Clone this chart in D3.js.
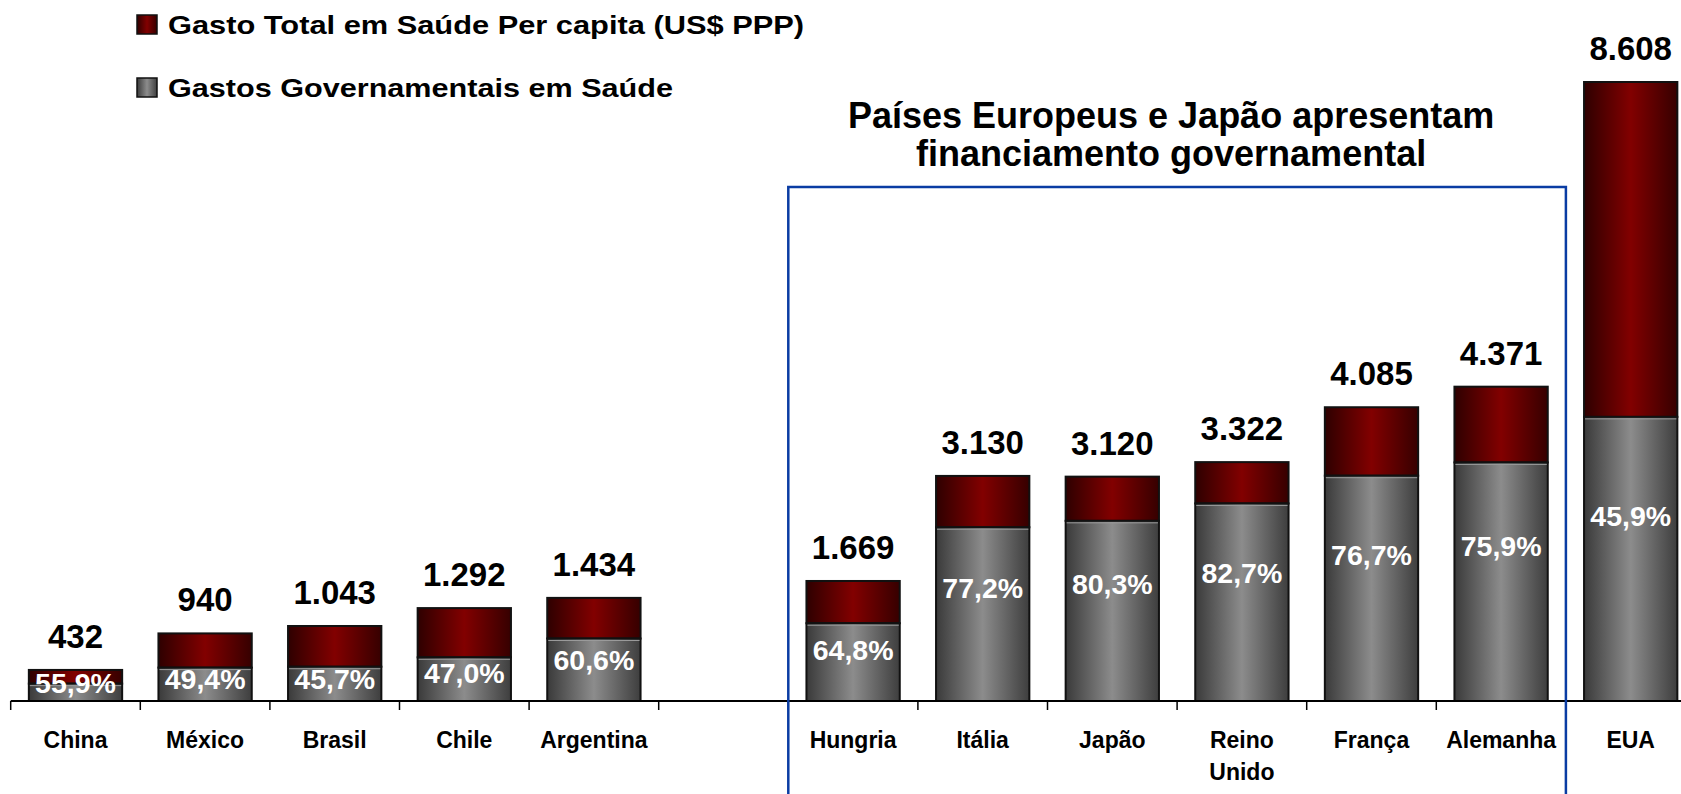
<!DOCTYPE html>
<html><head><meta charset="utf-8">
<script src="https://cdn.jsdelivr.net/npm/d3@7"></script>
<style>html,body{margin:0;padding:0;background:#fff;overflow:hidden}</style>
</head><body>
<svg id="chart" width="1681" height="794"></svg>
<script>
// ---- data ----
const categories = ["China","México","Brasil","Chile","Argentina","","Hungria","Itália","Japão","Reino Unido","França","Alemanha","EUA"];
const totalSpend = [432,940,1043,1292,1434,null,1669,3130,3120,3322,4085,4371,8608];
const govShare   = [55.9,49.4,45.7,47.0,60.6,null,64.8,77.2,80.3,82.7,76.7,75.9,45.9];
const seriesNames = ["Gasto Total em Saúde Per capita (US$ PPP)","Gastos Governamentais em Saúde"];
const boxTitle = ["Países Europeus e Japão apresentam","financiamento governamental"];
const boxedFirst = "Hungria", boxedAfter = "EUA";

// ---- setup ----
const W = 1681, H = 794;
const FONT = "'Liberation Sans', Arial, Helvetica, sans-serif";
const svg = d3.select("#chart");
const loc = d3.formatLocale({decimal:",", thousands:".", grouping:[3], currency:["",""]});
const fmtTotal = loc.format(",d");
const fmtPct = loc.format(".1f");

const x = d3.scaleBand().domain(categories).range([10.7, 1695.5]).paddingInner(0.28).paddingOuter(0.14);
const y = d3.scaleLinear().domain([0, d3.max(totalSpend)]).range([701, 82]);
const half = (x.step() - x.bandwidth()) / 2;
const boundary = c => x(c) - half;

const data = categories.map((c,i) => ({cat:c, total: totalSpend[i], share: govShare[i],
  gov: totalSpend[i] == null ? null : totalSpend[i] * govShare[i] / 100})).filter(d => d.total != null);

// gradients
const defs = svg.append("defs");
function grad(id, edgeL, mid, edgeR){
  const g = defs.append("linearGradient").attr("id", id).attr("x1","0").attr("x2","1").attr("y1","0").attr("y2","0");
  g.append("stop").attr("offset","0%").attr("stop-color", edgeL);
  g.append("stop").attr("offset","50%").attr("stop-color", mid);
  g.append("stop").attr("offset","100%").attr("stop-color", edgeR);
}
grad("gRed", "#2e0000", "#820000", "#360000");
grad("gGray", "#3a3a3a", "#8c8c8c", "#3e3e3e");

// bars
const bars = svg.append("g");
bars.selectAll("rect.tot").data(data).join("rect").attr("class","tot")
  .attr("x", d => x(d.cat)).attr("width", x.bandwidth())
  .attr("y", d => y(d.total)).attr("height", d => y(d.gov) - y(d.total))
  .attr("fill","url(#gRed)").attr("stroke","#111").attr("stroke-width",2);
bars.selectAll("rect.gov").data(data).join("rect").attr("class","gov")
  .attr("x", d => x(d.cat)).attr("width", x.bandwidth())
  .attr("y", d => y(d.gov)).attr("height", d => y(0) - y(d.gov))
  .attr("fill","url(#gGray)").attr("stroke","#111").attr("stroke-width",2);
// light bevel line at top of gray segment
bars.selectAll("line.bev").data(data).join("line").attr("class","bev")
  .attr("x1", d => x(d.cat)+1).attr("x2", d => x(d.cat)+x.bandwidth()-1)
  .attr("y1", d => y(d.gov)+2).attr("y2", d => y(d.gov)+2)
  .attr("stroke","#9a9a9a").attr("stroke-width",1);

// axis
const ax = svg.append("g");
ax.append("line").attr("x1", boundary(categories[0])).attr("x2", W).attr("y1", y(0)).attr("y2", y(0))
  .attr("stroke","#000").attr("stroke-width",2);
ax.selectAll("line.tick").data(categories).join("line").attr("class","tick")
  .attr("x1", d => boundary(d)).attr("x2", d => boundary(d))
  .attr("y1", y(0)).attr("y2", y(0)+9).attr("stroke","#000").attr("stroke-width",1.5);

// category labels
const cl = svg.append("g").attr("font-family", FONT).attr("font-weight","bold").attr("font-size",23).attr("fill","#000").attr("text-anchor","middle");
cl.selectAll("text").data(categories.filter(c => c !== "")).join("text")
  .attr("x", d => x(d) + x.bandwidth()/2).attr("y", 748)
  .each(function(d){
    const t = d3.select(this);
    d.split(" ").forEach((w,i) => t.append("tspan").attr("x", x(d)+x.bandwidth()/2).attr("dy", i ? 32 : 0).text(w));
  });

// value labels
svg.append("g").selectAll("text").data(data).join("text")
  .attr("x", d => x(d.cat) + x.bandwidth()/2).attr("y", d => y(d.total) - 22)
  .attr("text-anchor","middle").attr("font-family", FONT).attr("font-weight","bold").attr("font-size",33).attr("fill","#000")
  .text(d => fmtTotal(d.total));

// share labels (inside gray segment, kept clear of the axis)
svg.append("g").selectAll("text").data(data).join("text")
  .attr("x", d => x(d.cat) + x.bandwidth()/2).attr("y", d => Math.min(y(d.gov * 0.65), y(0) - 18) + 10)
  .attr("text-anchor","middle").attr("font-family", FONT).attr("font-weight","bold").attr("font-size",28.5).attr("fill","#fff")
  .text(d => fmtPct(d.share) + "%");

// highlight box
const bl = boundary(boxedFirst), br = boundary(boxedAfter);
svg.append("path").attr("d", `M${bl},${H+5}V187H${br}V${H+5}`).attr("fill","none").attr("stroke","#0a3ca3").attr("stroke-width",2.5);
svg.append("g").attr("font-family", FONT).attr("font-weight","bold").attr("font-size",36).attr("text-anchor","middle").attr("fill","#000")
  .selectAll("text").data(boxTitle).join("text")
  .attr("x", (bl+br)/2 - 6).attr("y", (d,i) => 128 + i*38).text(d => d);

// legend
const legFills = ["url(#gRed)","url(#gGray)"];
const legLen = [636, 505];
const lg = svg.append("g");
seriesNames.forEach((s,i) => {
  lg.append("rect").attr("x",137).attr("y",15 + i*63).attr("width",20).attr("height",19)
    .attr("fill", legFills[i]).attr("stroke","#111").attr("stroke-width",1.5);
  lg.append("text").attr("x",168).attr("y",34 + i*63).attr("font-family",FONT).attr("font-weight","bold")
    .attr("font-size",26).attr("textLength", legLen[i]).attr("lengthAdjust","spacingAndGlyphs").text(s);
});
</script>
</body></html>
